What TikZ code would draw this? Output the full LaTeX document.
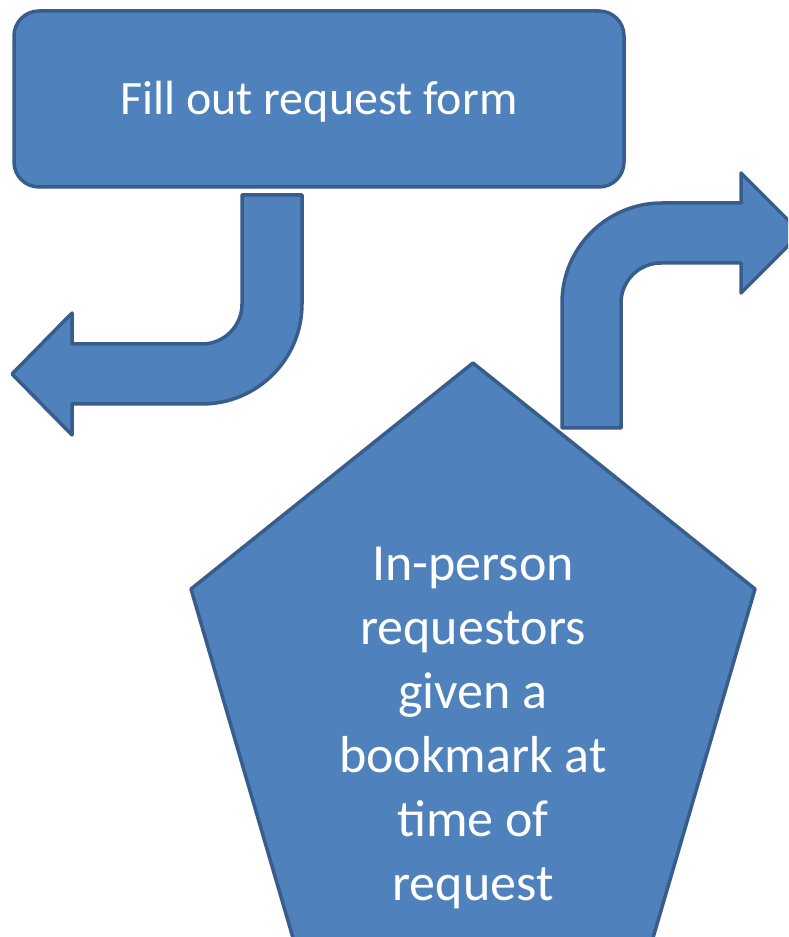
\documentclass[tikz,border=0pt]{standalone}
\usepackage{fontspec}
\setmainfont{Carlito}
\usepackage{tikz}
\definecolor{shapefill}{HTML}{4F81BD}
\definecolor{shapeline}{HTML}{385D8A}

\begin{document}
\begin{tikzpicture}[x=1pt,y=1pt,
  blockshape/.style={fill=shapefill,draw=shapeline,line width=3.5pt,line join=round},
  whitetext/.style={text=white,align=center}]
\clip (0,0) rectangle (788,937);
\draw [blockshape,rounded corners=25pt] (14,926) rectangle (624,750);
\node [whitetext,font=\fontsize{48}{58}\selectfont] (form) at (319,835) {Fill out request form};
\draw [blockshape] (242,742) -- (302,742) -- (302,633) arc (0:-90:100) --
(72,533) -- (72,502) -- (12,563) -- (72,624) -- (72,593) --
(202,593) arc (-90:0:40) -- cycle;
\draw [blockshape] (562,509) -- (562,634) arc (180:90:100) --
(741,734) -- (741,764) -- (801,704) -- (741,644) -- (741,674) --
(661,674) arc (90:180:40) -- (621,509) -- cycle;
\draw [blockshape] (473,574) -- (755,348) -- (648,-18) -- (298,-18) -- (191,348) -- cycle;
\node [whitetext,font=\fontsize{52}{64}\selectfont] (bookmark) at (473,209)
{In-person\\requestors\\given a\\bookmark at\\time of\\request};
\end{tikzpicture}
\end{document}
